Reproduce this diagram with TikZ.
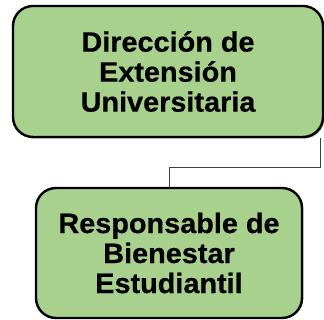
\documentclass[tikz,border=0pt]{standalone}
\usepackage{fontspec}
\setmainfont{Liberation Sans}[FakeStretch=1.03,FakeBold=0.6]
\definecolor{boxgreen}{HTML}{A9D18E}
\definecolor{linegray}{HTML}{404040}
\begin{document}
\begin{tikzpicture}[x=1pt,y=1pt,
  orgbox/.style={draw=black, line width=2.4pt, fill=boxgreen, rounded corners=20pt,
    inner sep=0pt, align=center, font=\bfseries\fontsize{28}{30}\selectfont},
  shadowbox/.style={fill=black!45, rounded corners=20pt, inner sep=0pt, draw=none},
  link/.style={draw=linegray, line width=1pt}]
\useasboundingbox (0,0) rectangle (324,320);
% shadows
\node[shadowbox, minimum width=310pt, minimum height=131pt] (topsh) at (169.3,247) {};
\node[shadowbox, minimum width=266pt, minimum height=130pt] (botsh) at (170.3,66.8) {};
\coordinate (cx) at (320,0);
\node[orgbox, minimum width=310pt, minimum height=131pt] (top) at (168,248.5)
  {Dirección de\\Extensión\\Universitaria};
\node[orgbox, minimum width=266pt, minimum height=130pt] (bot) at (169,67)
  {Responsable de\\Bienestar\\Estudiantil};
\draw[link] (top.south -| cx) -- ++(0,-29) -| (bot.north);
\end{tikzpicture}
\end{document}
